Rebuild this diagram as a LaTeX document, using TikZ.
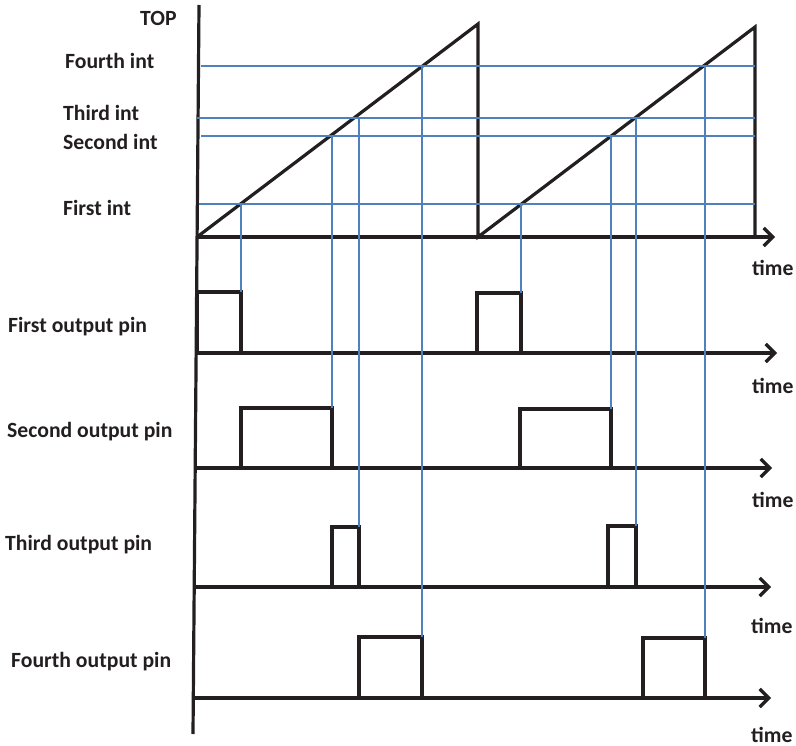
\documentclass[tikz,border=0pt]{standalone}
\usepackage{fontspec}
\setmainfont{Carlito}
\usetikzlibrary{arrows.meta}
\definecolor{bluint}{RGB}{79,129,189}
\definecolor{nero}{RGB}{35,31,32}

\begin{document}
\begin{tikzpicture}[x=1pt, y=-1pt]
				% Stili
				\tikzset{
					asse/.style={line width=3.2pt, nero, -{Straight Barb[length=9pt, width=18pt]}},
					segnale/.style={line width=3.2pt, nero, line join=miter},
					soglia/.style={line width=2.2pt, bluint},
					etichetta/.style={font=\fontsize{21.7}{26}\selectfont\bfseries, text=nero, inner sep=0pt, anchor=base west}
				}
				\useasboundingbox (0,0) rectangle (796,746);
				
				% Asse verticale
				\coordinate (Y_top) at (199,5);
				\coordinate (Y_bot) at (193,734);
				\draw[segnale] (Y_top) -- (Y_bot);
				
				% Assi dei tempi
				\coordinate (A0) at (197,237);  \coordinate (E0) at (775,237);
				\coordinate (A1) at (196,353);  \coordinate (E1) at (777,353);
				\coordinate (A2) at (195,468);  \coordinate (E2) at (772,468);
				\coordinate (A3) at (194,587);  \coordinate (E3) at (771,587);
				\coordinate (A4) at (193,698);  \coordinate (E4) at (771,698);
				\draw[asse] (A0) -- (E0);
				\draw[asse] (A1) -- (E1);
				\draw[asse] (A2) -- (E2);
				\draw[asse] (A3) -- (E3);
				\draw[asse] (A4) -- (E4);
				
				% Dente di sega
				\coordinate (S1_top) at (478,24);  \coordinate (S1_bot) at (478,237);
				\coordinate (S2_top) at (755,27);  \coordinate (S2_bot) at (755,237);
				\draw[segnale] (A0) -- (S1_top) -- (S1_bot) -- (S2_top) -- (S2_bot);
				
				% Impulsi: primo pin
				\coordinate (U1a) at (241,292);  \coordinate (U1b) at (521,293);
				\draw[segnale] (197,353) -- (197,292) -- (U1a) -- (241,353);
				\draw[segnale] (477,353) -- (477,293) -- (U1b) -- (521,353);
				
				% Impulsi: secondo pin
				\coordinate (U2a) at (332,408);  \coordinate (U2b) at (611,409);
				\draw[segnale] (241,468) -- (241,408) -- (U2a) -- (332,468);
				\draw[segnale] (520,469) -- (520,409) -- (U2b) -- (611,469);
				
				% Impulsi: terzo pin
				\coordinate (U3a) at (359,527);  \coordinate (U3b) at (636,526);
				\draw[segnale] (332,587) -- (332,527) -- (U3a) -- (359,587);
				\draw[segnale] (608,587) -- (608,526) -- (U3b) -- (636,587);
				
				% Impulsi: quarto pin
				\coordinate (U4a) at (422,637);  \coordinate (U4b) at (705,638);
				\draw[segnale] (359,698) -- (359,637) -- (U4a) -- (422,698);
				\draw[segnale] (643,699) -- (643,638) -- (U4b) -- (705,699);
				
				% Soglie orizzontali
				\coordinate (L4a) at (201,66);   \coordinate (L4b) at (755,66);
				\coordinate (L3a) at (197,118);  \coordinate (L3b) at (755,118);
				\coordinate (L2a) at (201,136);  \coordinate (L2b) at (755,136);
				\coordinate (L1a) at (199,204);  \coordinate (L1b) at (755,204);
				\draw[soglia] (L4a) -- (L4b);
				\draw[soglia] (L3a) -- (L3b);
				\draw[soglia] (L2a) -- (L2b);
				\draw[soglia] (L1a) -- (L1b);
				
				% Proiezioni verticali (incroci con la rampa)
				\coordinate (X1a) at (241,204);  \coordinate (X1b) at (521,204);
				\coordinate (X2a) at (332,136);  \coordinate (X2b) at (611,136);
				\coordinate (X3a) at (359,118);  \coordinate (X3b) at (636,118);
				\coordinate (X4a) at (422,66);   \coordinate (X4b) at (705,66);
				\draw[soglia] (X1a) -- (U1a);
				\draw[soglia] (X1b) -- (U1b);
				\draw[soglia] (X2a) -- (U2a);
				\draw[soglia] (X2b) -- (U2b);
				\draw[soglia] (X3a) -- (U3a);
				\draw[soglia] (X3b) -- (U3b);
				\draw[soglia] (X4a) -- (U4a);
				\draw[soglia] (X4b) -- (U4b);
				
				% Etichette soglie
				\node[etichetta] (top)    at (140,26)  {TOP};
				\node[etichetta] (int4)   at (65,69)   {Fourth int};
				\node[etichetta] (int3)   at (63,121)  {Third int};
				\node[etichetta] (int2)   at (63,150)  {Second int};
				\node[etichetta] (int1)   at (63,216)  {First int};
				
				% Etichette pin
				\node[etichetta] (pin1)   at (8,333)   {First output pin};
				\node[etichetta] (pin2)   at (7,437)   {Second output pin};
				\node[etichetta] (pin3)   at (5,550)   {Third output pin};
				\node[etichetta] (pin4)   at (11,667)  {Fourth output pin};
				
				% Etichette tempo
				\node[etichetta] (t0) at (752,276) {time};
				\node[etichetta] (t1) at (752,393) {time};
				\node[etichetta] (t2) at (752,507) {time};
				\node[etichetta] (t3) at (751,633) {time};
				\node[etichetta] (t4) at (751,742) {time};
				
			\end{tikzpicture}
\end{document}
